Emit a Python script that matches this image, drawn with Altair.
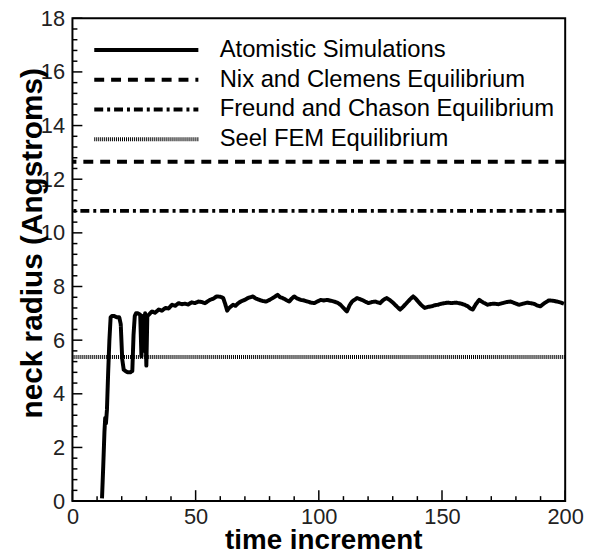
import altair as alt
import pandas as pd

series_names = [
    "Atomistic Simulations",
    "Nix and Clemens Equilibrium",
    "Freund and Chason Equilibrium",
    "Seel FEM Equilibrium",
]
eq_values = [12.65, 10.82, 5.37]

time_inc = [
    12.0, 12.5, 13.0, 13.3, 13.6, 14.0, 14.5, 15.0, 15.5, 16.0, 17.0, 18.0, 19.0,
    19.6, 20.2, 20.8, 21.5, 22.5, 23.5, 24.3, 24.8, 25.3, 25.8, 26.5, 27.5,
    28.0, 28.5, 29.0, 29.5, 30.0, 30.4, 31.0,
    32.3, 33.5, 35.0, 36.3, 37.7, 39.0, 40.4, 41.7, 43.1, 44.4, 45.7, 47.0,
    48.4, 49.7, 51.1, 52.5, 53.8, 55.8, 57.2, 58.5, 60.0, 61.2, 62.0, 62.8,
    63.6, 65.2, 66.2, 67.3, 68.5, 69.9, 71.2, 73.2, 74.5, 75.9, 77.2, 78.6,
    80.0, 81.3, 83.3, 84.3, 85.3, 86.7, 88.0, 89.0, 90.0, 91.3, 92.7, 94.0,
    95.4, 96.8, 98.1, 99.4, 100.7, 102.0, 103.4, 104.8, 106.1, 107.5, 108.8,
    110.0, 111.4, 112.5, 113.5, 115.5, 117.5, 118.8, 120.2, 121.5, 122.9,
    124.9, 126.2, 127.6, 129.0, 130.3, 131.7, 133.0, 134.3, 135.6, 137.0,
    138.3, 139.3, 140.3, 141.7, 143.0, 144.3, 145.7, 147.0, 148.4, 149.8,
    151.1, 152.5, 153.8, 155.8, 157.8, 159.2, 160.5, 161.5, 162.5, 163.8,
    165.1, 166.8, 168.5, 169.9, 171.2, 172.8, 174.5, 176.2, 177.9, 179.5,
    181.2, 182.9, 184.6, 185.9, 187.2, 188.5, 189.9, 191.6, 193.3, 195.0,
    196.6, 198.3, 199.5,
]
radius = [
    0.1, 1.3, 2.6, 3.1, 2.9, 3.4, 4.8, 6.0, 6.85, 6.9, 6.9, 6.85, 6.85,
    6.6, 5.3, 4.9, 4.85, 4.8, 4.8, 4.85, 6.2, 6.9, 7.0, 7.0, 6.95,
    5.4, 6.9, 5.6, 7.0, 5.05, 6.9, 6.95,
    7.07, 7.02, 7.14, 7.1, 7.2, 7.18, 7.32, 7.28, 7.38, 7.34, 7.36, 7.33,
    7.41, 7.38, 7.44, 7.42, 7.38, 7.5, 7.55, 7.63, 7.62, 7.57, 7.35, 7.1,
    7.2, 7.32, 7.28, 7.38, 7.45, 7.5, 7.57, 7.63, 7.55, 7.5, 7.46, 7.44,
    7.5, 7.57, 7.69, 7.6, 7.57, 7.5, 7.44, 7.55, 7.63, 7.55, 7.5, 7.48,
    7.44, 7.4, 7.38, 7.44, 7.5, 7.48, 7.5, 7.47, 7.44, 7.4, 7.32,
    7.2, 7.07, 7.3, 7.44, 7.57, 7.5, 7.44, 7.38, 7.42, 7.44,
    7.38, 7.5, 7.57, 7.48, 7.38, 7.25, 7.14, 7.25, 7.38, 7.52,
    7.63, 7.55, 7.44, 7.3, 7.2, 7.24, 7.26, 7.3, 7.32, 7.36,
    7.38, 7.4, 7.38, 7.4, 7.36, 7.32, 7.26, 7.18, 7.14, 7.35,
    7.5, 7.4, 7.32, 7.35, 7.36, 7.34, 7.38, 7.42, 7.44, 7.38,
    7.32, 7.36, 7.4, 7.38, 7.36, 7.3, 7.26, 7.38, 7.48, 7.47,
    7.44, 7.4, 7.36,
]

x_major = [0, 50, 100, 150, 200]
y_major = [0, 2, 4, 6, 8, 10, 12, 14, 16, 18]
x_minor = [10, 20, 30, 40, 60, 70, 80, 90, 110, 120, 130, 140, 160, 170, 180, 190]
y_minor = [round(i * 0.4, 1) for i in range(46) if i % 5 != 0]

dash_range = [[1, 0], [10, 7], [9, 4, 3, 4], [1, 1]]
width_range = [4, 4, 3.5, 3]

curve_df = pd.DataFrame({"time": time_inc, "radius": radius, "series": series_names[0]})
eq_df = pd.DataFrame({"series": series_names[1:], "radius": eq_values})

FONT = "Liberation Sans"
PW, PH = 497, 487
xscale = alt.Scale(domain=[0, 200], nice=False, zero=False)
yscale = alt.Scale(domain=[0, 18], nice=False)
dash_scale = alt.Scale(domain=series_names, range=dash_range)
width_scale = alt.Scale(domain=series_names, range=width_range)

legend = alt.Legend(
    title=None, orient="none", legendX=22, legendY=20, padding=0,
    symbolType="M-5.25,0H5.25", symbolSize=400, symbolStrokeWidth=3.5,
    symbolStrokeColor="black", symbolFillColor="transparent",
    symbolOffset=40.5, labelOffset=62, labelFont=FONT, labelFontSize=24,
    labelColor="black", rowPadding=6, labelLimit=500,
)

y_left = alt.Axis(
    orient="left", values=y_major, ticks=False, domain=False, grid=False,
    labelFont=FONT, labelFontSize=22, labelColor="#222", labelPadding=8, format="d",
    title="neck radius (Angstroms)", titleFont=FONT, titleFontSize=30,
    titleFontWeight="bold", titleColor="black", titleAngle=270, titleAlign="center",
    titleBaseline="alphabetic", titleX=-31, titleY=226.5,
)
x_bottom = alt.Axis(
    orient="bottom", values=x_major, ticks=False, domain=False, grid=False,
    labelFont=FONT, labelFontSize=22, labelColor="#222", labelPadding=6, labelFlush=False,
    format="d",
    title="time increment", titleFont=FONT, titleFontSize=28, titleFontWeight="bold",
    titleColor="black", titleAngle=0, titleAlign="center", titleBaseline="alphabetic",
    titleX=253, titleY=48,
)


# inward tick marks, placed through the shared scales
def y_ticks(values, length):
    df = pd.DataFrame({"v": values})
    return alt.Chart(df).mark_rule(color="black", strokeWidth=1.5).encode(
        y=alt.Y("v:Q", scale=yscale),
        x=alt.value(0), x2=alt.value(length),
    )


def x_ticks(values, length):
    df = pd.DataFrame({"v": values})
    return alt.Chart(df).mark_rule(color="black", strokeWidth=1.5).encode(
        x=alt.X("v:Q", scale=xscale),
        y=alt.value(PH), y2=alt.value(PH - length),
    )


curve = alt.Chart(curve_df).mark_line(color="black", strokeJoin="round").encode(
    x=alt.X("time:Q", scale=xscale, axis=x_bottom),
    y=alt.Y("radius:Q", scale=yscale, axis=y_left),
    strokeDash=alt.StrokeDash("series:N", scale=dash_scale, legend=legend),
    strokeWidth=alt.StrokeWidth("series:N", scale=width_scale, legend=None),
)

rules = alt.Chart(eq_df).mark_rule(color="black").encode(
    y=alt.Y("radius:Q", scale=yscale),
    strokeDash=alt.StrokeDash("series:N", scale=dash_scale, legend=legend),
    strokeWidth=alt.StrokeWidth("series:N", scale=width_scale, legend=None),
)

chart = (
    alt.layer(
        curve, rules,
        y_ticks(y_minor, 5), y_ticks(y_major, 10),
        x_ticks(x_minor, 5), x_ticks(x_major, 11),
    )
    .properties(
        width=PW, height=PH,
        autosize=alt.AutoSizeParams(type="none"),
        padding={"left": 65, "top": 8, "right": 22, "bottom": 50},
        background="white",
    )
    .configure_view(stroke="black", strokeWidth=2)
)

chart.save("out.html", embed_options={"renderer": "svg", "actions": False})
